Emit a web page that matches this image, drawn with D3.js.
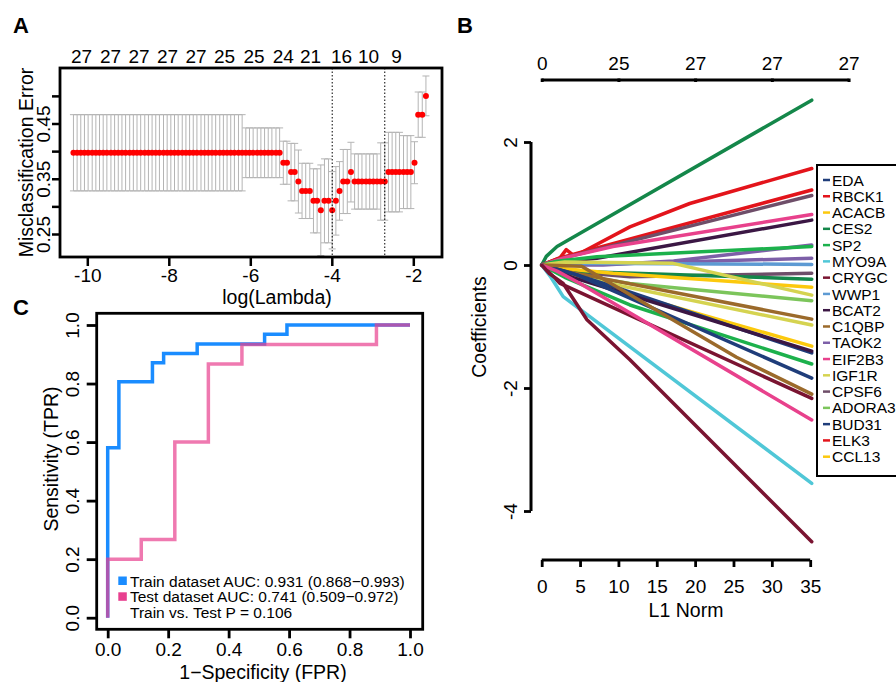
<!DOCTYPE html>
<html><head><meta charset="utf-8">
<script src="https://cdn.jsdelivr.net/npm/d3@7"></script>
<style>body{margin:0;background:#fff}svg{display:block}</style>
</head><body><svg id="c" width="896" height="682"></svg>
<script>
// ---------- Panel A data (cv.glmnet) ----------
const logLambda = [-10.34,-10.25,-10.16,-10.07,-9.98,-9.88,-9.79,-9.70,-9.61,-9.52,
-9.42,-9.33,-9.24,-9.15,-9.06,-8.96,-8.87,-8.78,-8.69,-8.59,
-8.50,-8.41,-8.32,-8.23,-8.13,-8.04,-7.95,-7.86,-7.77,-7.67,
-7.58,-7.49,-7.40,-7.31,-7.21,-7.12,-7.03,-6.94,-6.85,-6.75,
-6.66,-6.57,-6.48,-6.39,-6.29,-6.20,-6.11,-6.02,-5.93,-5.83,
-5.74,-5.65,-5.56,-5.47,-5.37,-5.28,-5.19,-5.10,-5.00,-4.91,
-4.82,-4.73,-4.64,-4.54,-4.45,-4.36,-4.27,-4.18,-4.08,-3.99,
-3.90,-3.81,-3.72,-3.62,-3.53,-3.44,-3.35,-3.26,-3.16,-3.07,
-2.98,-2.89,-2.80,-2.70,-2.61,-2.52,-2.43,-2.34,-2.24,-2.15,
-2.06,-1.97,-1.88,-1.78,-1.69];
const cvm = [0.397,0.397,0.397,0.397,0.397,0.397,0.397,0.397,0.397,0.397,
0.397,0.397,0.397,0.397,0.397,0.397,0.397,0.397,0.397,0.397,
0.397,0.397,0.397,0.397,0.397,0.397,0.397,0.397,0.397,0.397,
0.397,0.397,0.397,0.397,0.397,0.397,0.397,0.397,0.397,0.397,
0.397,0.397,0.397,0.397,0.397,0.397,0.397,0.397,0.397,0.397,
0.397,0.397,0.397,0.397,0.397,0.397,0.379,0.379,0.362,0.362,
0.345,0.328,0.328,0.328,0.310,0.310,0.293,0.310,0.310,0.293,
0.310,0.328,0.345,0.345,0.362,0.345,0.345,0.345,0.345,0.345,
0.345,0.345,0.345,0.345,0.362,0.362,0.362,0.362,0.362,0.362,
0.362,0.379,0.466,0.466,0.500];
const cvsd = [0.069,0.069,0.069,0.069,0.069,0.069,0.069,0.069,0.069,0.069,
0.069,0.069,0.069,0.069,0.069,0.069,0.069,0.069,0.069,0.069,
0.069,0.069,0.069,0.069,0.069,0.069,0.069,0.069,0.069,0.069,
0.069,0.069,0.069,0.069,0.069,0.069,0.069,0.069,0.069,0.069,
0.069,0.069,0.069,0.069,0.069,0.069,0.045,0.045,0.045,0.045,
0.045,0.045,0.045,0.045,0.045,0.045,0.039,0.039,0.052,0.052,
0.057,0.050,0.050,0.050,0.058,0.058,0.082,0.076,0.076,0.070,
0.062,0.053,0.058,0.058,0.054,0.050,0.050,0.050,0.050,0.050,
0.050,0.050,0.070,0.070,0.072,0.072,0.072,0.072,0.066,0.066,
0.066,0.038,0.041,0.041,0.036];
const lambdaMin = -3.99, lambda1se = -2.70;
const nzeroPos = [-10.14,-9.43,-8.73,-8.03,-7.33,-6.63,-5.91,-5.19,-4.52,-3.76,-3.10,-2.41];
const nzeroLab = ["27","27","27","27","27","25","25","24","21","16","10","9"];
const xTicksA = [-10,-8,-6,-4,-2];
const yTicksA = [0.25,0.30,0.35,0.40,0.45,0.50];
const yTickLabA = ["0.25","","0.35","","0.45",""];

// ---------- Panel B data (coefficient paths) ----------
const palette = ["#1f3d7a","#e3141b","#fcc90d","#14874a","#1cb14c","#50c7d7","#7a1431","#5d9ad3","#3b1744","#9b6a2b","#7d5fa8","#e8418c","#d5d350","#6e4e69","#7cc55b"];
const legendGenes = ["EDA","RBCK1","ACACB","CES2","SP2","MYO9A","CRYGC","WWP1","BCAT2","C1QBP","TAOK2","EIF2B3","IGF1R","CPSF6","ADORA3","BUD31","ELK3","CCL13"];
const pathColorIdx = [3,1,1,13,11,8,10,4,10,7,13,3,2,12,14,9,12,2,0,8,4,0,9,6,11,5,6];
const coefPaths = [
 [[0,0],[0.6,0.14],[2,0.30],[35.2,2.68]],
 [[0,0],[2.4,0.12],[3.2,0.25],[4.1,0.16],[5,0.19],[11.5,0.62],[19.3,1.0],[35.2,1.57]],
 [[0,0],[2.5,0.12],[35.2,1.22]],
 [[0,0],[3,0.12],[35.2,1.13]],
 [[0,0],[3,0.12],[9.3,0.30],[35.2,0.82]],
 [[0,0],[2,0.05],[7.2,0.11],[35.2,0.73]],
 [[0,0],[8,0.0],[17.2,0.065],[35.2,0.325]],
 [[0,0],[2,0.06],[7.2,0.135],[35.2,0.30]],
 [[0,0],[10,0.02],[35.2,0.11]],
 [[0,0],[5,0.03],[35.2,0.01]],
 [[0,0],[3,-0.10],[11.5,-0.19],[35.2,-0.135]],
 [[0,0],[4,-0.10],[35.2,-0.23]],
 [[0,0],[2,-0.05],[9.3,-0.135],[35.2,-0.36]],
 [[0,0],[3,0.05],[17,0.03],[35.2,-0.49]],
 [[0,0],[4,-0.15],[11.5,-0.30],[35.2,-0.58]],
 [[0,0],[3,-0.10],[35.2,-0.88]],
 [[0,0],[3,-0.15],[35.2,-0.976]],
 [[0,0],[7.2,-0.32],[35.2,-1.32]],
 [[0,0],[3,-0.10],[9.3,-0.35],[35.2,-1.43]],
 [[0,0],[4,-0.20],[35.2,-1.40]],
 [[0,0],[3,-0.20],[11.5,-0.65],[35.2,-1.61]],
 [[0,0],[1.5,-0.05],[4.6,-0.16],[35.2,-1.84]],
 [[0,0],[5.2,-0.02],[25.4,-1.50],[35.2,-2.10]],
 [[0,0],[2.4,-0.30],[35.2,-2.17]],
 [[0,0],[2,-0.10],[5,-0.30],[35.2,-2.52]],
 [[0,0],[1.2,-0.20],[2.8,-0.515],[35.2,-3.55]],
 [[0,0],[1.0,-0.14],[2.8,-0.30],[5.9,-0.89],[11.5,-1.54],[35.2,-4.50]]
];
const xTicksB = [0,5,10,15,20,25,30,35];
const topTicksB = [0,10,20,30,40];
const topLabB = ["0","25","27","27","27"];
const yTicksB = [-4,-2,0,2];

// ---------- Panel C data (ROC) ----------
const trainFPR = [0,0,0.037,0.037,0.148,0.148,0.185,0.185,0.296,0.296,0.519,0.519,0.593,0.593,1];
const trainTPR = [0,0.581,0.581,0.806,0.806,0.871,0.871,0.903,0.903,0.935,0.935,0.968,0.968,1,1];
const testFPR = [0,0,0.111,0.111,0.222,0.222,0.333,0.333,0.444,0.444,0.889,0.889,1];
const testTPR = [0,0.2,0.2,0.267,0.267,0.6,0.6,0.867,0.867,0.933,0.933,1,1];
const rocTicks = [0,0.2,0.4,0.6,0.8,1.0];
const rocLegend = ["Train dataset AUC: 0.931 (0.868\u22120.993)","Test dataset AUC: 0.741 (0.509\u22120.972)","Train vs. Test P = 0.106"];

// ---------- drawing ----------
const FONT = '"Liberation Sans", Arial, Helvetica, sans-serif';
const svg = d3.select("#c").style("font-family", FONT);
const TICKFS = "19px", TITLEFS = "19.5px";

function styleAxis(g, sw){
  g.attr("font-size", null).attr("font-family", null);
  g.selectAll("line").attr("stroke","#000").attr("stroke-width", sw);
  g.selectAll("text").style("font-size", TICKFS).attr("fill","#000");
}

// Panel labels
[["A",13,33],["B",457,33],["C",13,315]].forEach(([t,x,y])=>{
  svg.append("text").attr("x",x).attr("y",y).text(t).style("font-size","22px").style("font-weight","bold");
});

// ===== Panel A =====
const xA = d3.scaleLinear().domain([-10,-2]).range([87.3,413.3]);
const yA = d3.scaleLinear().domain([0.25,0.45]).range([234,123.5]);
const gA = svg.append("g");
const cvData = logLambda.map((l,i)=>({l, m:cvm[i], s:cvsd[i]}));
const capW = 3.5;
const eb = gA.append("g").attr("stroke","#b4b4b4").attr("stroke-width",1);
eb.selectAll("line.v").data(cvData).join("line").attr("class","v")
  .attr("x1",d=>xA(d.l)).attr("x2",d=>xA(d.l)).attr("y1",d=>yA(d.m+d.s)).attr("y2",d=>yA(d.m-d.s));
eb.selectAll("line.u").data(cvData).join("line").attr("class","u")
  .attr("x1",d=>xA(d.l)-capW).attr("x2",d=>xA(d.l)+capW).attr("y1",d=>yA(d.m+d.s)).attr("y2",d=>yA(d.m+d.s));
eb.selectAll("line.lo").data(cvData).join("line").attr("class","lo")
  .attr("x1",d=>xA(d.l)-capW).attr("x2",d=>xA(d.l)+capW).attr("y1",d=>yA(d.m-d.s)).attr("y2",d=>yA(d.m-d.s));
gA.selectAll("circle").data(cvData).join("circle")
  .attr("cx",d=>xA(d.l)).attr("cy",d=>yA(d.m)).attr("r",3).attr("fill","#ff0000");
[lambdaMin, lambda1se].forEach(v=>{
  gA.append("line").attr("x1",xA(v)).attr("x2",xA(v)).attr("y1",68).attr("y2",257)
    .attr("stroke","#000").attr("stroke-width",1).attr("stroke-dasharray","1.5,2");
});
gA.append("rect").attr("x",60).attr("y",68).attr("width",382).attr("height",189)
  .attr("fill","none").attr("stroke","#000").attr("stroke-width",2.8);
const axAy = svg.append("g").attr("transform","translate(60,0)")
  .call(d3.axisLeft(yA).tickValues(yTicksA).tickSize(8).tickFormat((d,i)=>yTickLabA[i]));
axAy.select(".domain").remove(); styleAxis(axAy, 2.5);
axAy.selectAll("text").attr("transform","rotate(-90)").attr("x",0).attr("y",-10).attr("dy",0).attr("text-anchor","middle");
const axAx = svg.append("g").attr("transform","translate(0,257)")
  .call(d3.axisBottom(xA).tickValues(xTicksA).tickSize(9).tickFormat(d=>String(d)));
axAx.select(".domain").remove(); styleAxis(axAx, 2.5);
axAx.selectAll("text").attr("y",24.5).attr("dy",0);
svg.append("g").selectAll("text").data(nzeroPos).join("text")
  .attr("x",d=>xA(d)).attr("y",63.3).attr("text-anchor","middle").style("font-size",TICKFS)
  .text((d,i)=>nzeroLab[i]);
svg.append("text").attr("x",277).attr("y",304).attr("text-anchor","middle").style("font-size",TITLEFS).text("log(Lambda)");
svg.append("text").attr("transform","translate(33,162.5) rotate(-90)").attr("text-anchor","middle").style("font-size",TITLEFS).text("Misclassification Error");

// ===== Panel B =====
const xB = d3.scaleLinear().domain([0,35]).range([541.7,810.2]);
const yB = d3.scaleLinear().domain([-4,2]).range([511,142]);
const gB = svg.append("g");
const lineB = d3.line().x(d=>xB(d[0])).y(d=>yB(d[1]));
gB.selectAll("path.cp").data(coefPaths).join("path").attr("class","cp")
  .attr("d",lineB).attr("fill","none").attr("stroke",(d,i)=>palette[pathColorIdx[i]])
  .attr("stroke-width",3.5).attr("stroke-linecap","round").attr("stroke-linejoin","round");
const axBl = svg.append("g").attr("transform","translate(531,0)")
  .call(d3.axisLeft(yB).tickValues(yTicksB).tickSize(7).tickSizeOuter(0).tickFormat(d=>String(d)));
styleAxis(axBl, 2.8);
axBl.select(".domain").attr("d",`M0,${yB(-4)}V${yB(2)}`).attr("stroke","#000").attr("stroke-width",3).attr("fill","none");
axBl.selectAll("text").attr("transform","rotate(-90)").attr("x",0).attr("y",-14).attr("dy",0).attr("text-anchor","middle");
const axBb = svg.append("g").attr("transform","translate(0,560)")
  .call(d3.axisBottom(xB).tickValues(xTicksB).tickSize(7).tickSizeOuter(0));
styleAxis(axBb, 2.8);
axBb.select(".domain").attr("d",`M${xB(0)},0H${xB(35)}`).attr("stroke","#000").attr("stroke-width",3).attr("fill","none");
axBb.selectAll("text").attr("y",32.7).attr("dy",0);
const axBt = svg.append("g").attr("transform","translate(0,80)")
  .call(d3.axisTop(xB).tickValues(topTicksB).tickSize(3).tickSizeOuter(0).tickFormat((d,i)=>topLabB[i]));
styleAxis(axBt, 3);
axBt.select(".domain").attr("d",`M${xB(0)},0H${xB(40)}`).attr("stroke","#000").attr("stroke-width",3).attr("fill","none");
axBt.selectAll("line").attr("y1",-1.5).attr("y2",2);
axBt.selectAll("text").attr("y",-10).attr("dy",0);
svg.append("text").attr("x",686).attr("y",617).attr("text-anchor","middle").style("font-size",TITLEFS).text("L1 Norm");
svg.append("text").attr("transform","translate(486,327) rotate(-90)").attr("text-anchor","middle").style("font-size",TITLEFS).text("Coefficients");
// legend
const lgB = svg.append("g");
lgB.append("rect").attr("x",817).attr("y",165).attr("width",100).attr("height",311)
  .attr("fill","#fff").attr("stroke","#000").attr("stroke-width",2);
const lgRow = d3.scaleLinear().domain([0,17]).range([180,456.7]);
lgB.selectAll("line").data(legendGenes).join("line")
  .attr("x1",823).attr("x2",830).attr("y1",(d,i)=>lgRow(i)).attr("y2",(d,i)=>lgRow(i))
  .attr("stroke",(d,i)=>palette[i%15]).attr("stroke-width",2.5);
lgB.selectAll("text").data(legendGenes).join("text")
  .attr("x",832).attr("y",(d,i)=>lgRow(i)).attr("dy","0.36em").style("font-size","15.5px").text(d=>d);

// ===== Panel C =====
const xC = d3.scaleLinear().domain([0,1]).range([107.7,410]);
const yC = d3.scaleLinear().domain([0,1]).range([617.7,325]);
const gC = svg.append("g");
const lineC = d3.line().x(d=>xC(d[0])).y(d=>yC(d[1]));
gC.append("path").datum(trainFPR.map((f,i)=>[f,trainTPR[i]])).attr("d",lineC)
  .attr("fill","none").attr("stroke","#1a8cff").attr("stroke-width",3.5);
gC.append("path").datum(testFPR.map((f,i)=>[f,testTPR[i]])).attr("d",lineC)
  .attr("fill","none").attr("stroke","#e8408f").attr("stroke-opacity",0.7).attr("stroke-width",3.5);
gC.append("rect").attr("x",96.7).attr("y",313.3).attr("width",326).attr("height",316)
  .attr("fill","none").attr("stroke","#000").attr("stroke-width",2.8);
const axCy = svg.append("g").attr("transform","translate(96.7,0)")
  .call(d3.axisLeft(yC).tickValues(rocTicks).tickSize(10).tickFormat(d3.format(".1f")));
axCy.select(".domain").remove(); styleAxis(axCy, 2.8);
axCy.selectAll("text").attr("transform","rotate(-90)").attr("x",0).attr("y",-18).attr("dy",0).attr("text-anchor","middle");
const axCx = svg.append("g").attr("transform","translate(0,629.3)")
  .call(d3.axisBottom(xC).tickValues(rocTicks).tickSize(9).tickFormat(d3.format(".1f")));
axCx.select(".domain").remove(); styleAxis(axCx, 2.8);
axCx.selectAll("text").attr("y",26.5).attr("dy",0);
svg.append("text").attr("x",263).attr("y",678.5).attr("text-anchor","middle").style("font-size",TITLEFS).text("1\u2212Specificity (FPR)");
svg.append("text").attr("transform","translate(58,459) rotate(-90)").attr("text-anchor","middle").style("font-size",TITLEFS).text("Sensitivity (TPR)");
const lgC = svg.append("g");
const lgCy = [586.5,602.3,618];
const lgCcol = ["#1a8cff","#e8408f",null];
rocLegend.forEach((t,i)=>{
  if(lgCcol[i]) lgC.append("rect").attr("x",118.3).attr("y",lgCy[i]-10).attr("width",8.5).attr("height",8.5).attr("fill",lgCcol[i]);
  lgC.append("text").attr("x",130).attr("y",lgCy[i]).style("font-size","15.5px").text(t);
});
</script></body></html>
